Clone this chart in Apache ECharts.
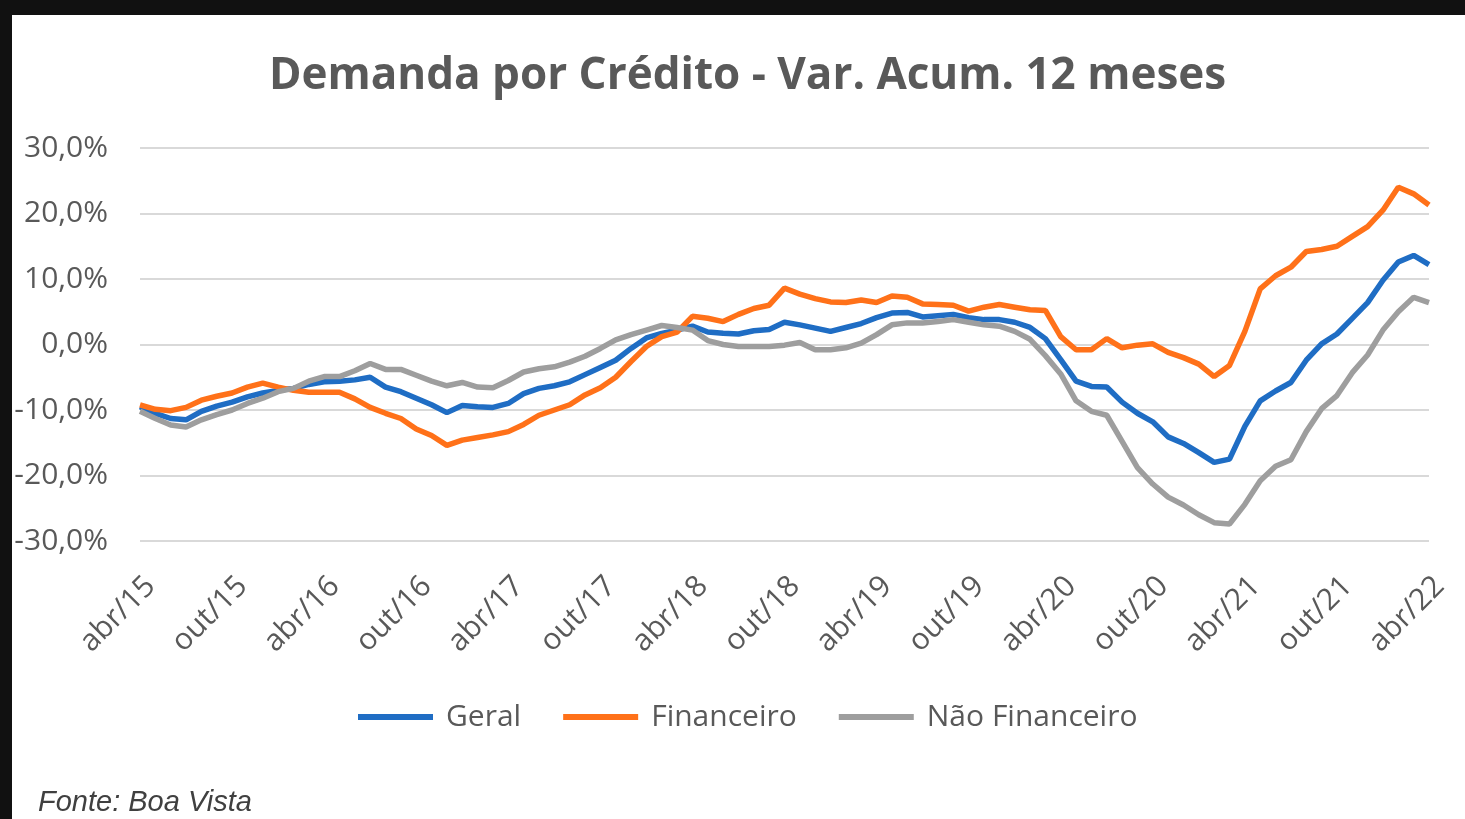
<!DOCTYPE html>
<html>
<head>
<meta charset="utf-8">
<script src="https://cdn.jsdelivr.net/npm/echarts@6/dist/echarts.min.js"></script>
<style>
html,body{margin:0;padding:0;background:#111;}
#chart{width:1465px;height:819px;}
</style>
</head>
<body>
<div id="chart"></div>
<script>
const titleText = 'Demanda por Crédito - Var. Acum. 12 meses';
const sourceText = 'Fonte: Boa Vista';
const seriesNames = ['Geral', 'Financeiro', 'Não Financeiro'];
const monthAbbr = ['abr','mai','jun','jul','ago','set','out','nov','dez','jan','fev','mar'];
const yTicks = [-30, -20, -10, 0, 10, 20, 30];

// monthly categories abr/15 .. abr/22 (85 months)
const categories = [];
(function(){
  let y = 15;
  for (let i = 0; i < 85; i++) {
    const m = i % 12;
    if (m === 9 && i > 0) y++;
    categories.push(monthAbbr[m] + '/' + y);
  }
})();

const geral = [
 -9.5,-10.5,-11.3,-11.5,-10.2,-9.4,-8.8,-8.0,-7.4,-7.0,-6.7,-6.1,
 -5.7,-5.6,-5.4,-5.0,-6.5,-7.2,-8.2,-9.2,-10.4,-9.3,-9.5,-9.6,
 -9.0,-7.5,-6.7,-6.3,-5.7,-4.6,-3.5,-2.4,-0.6,1.0,1.7,2.2,
 2.8,1.9,1.7,1.6,2.1,2.3,3.4,3.0,2.5,2.0,2.6,3.2,
 4.1,4.8,4.9,4.2,4.4,4.6,4.1,3.8,3.8,3.4,2.6,0.9,
 -2.3,-5.6,-6.4,-6.5,-8.8,-10.5,-11.8,-14.1,-15.1,-16.5,-18.0,-17.5,
 -12.5,-8.6,-7.1,-5.8,-2.4,0.1,1.6,4.0,6.4,9.8,12.6,13.6,12.2
];
const financeiro = [
 -9.2,-9.9,-10.1,-9.6,-8.5,-7.9,-7.4,-6.5,-5.9,-6.5,-7.0,-7.3,
 -7.3,-7.3,-8.3,-9.6,-10.5,-11.3,-12.9,-13.9,-15.4,-14.6,-14.2,-13.8,
 -13.3,-12.2,-10.8,-10.0,-9.2,-7.7,-6.6,-5.0,-2.6,-0.3,1.2,1.9,
 4.3,4.0,3.5,4.6,5.5,6.0,8.6,7.7,7.0,6.5,6.4,6.8,
 6.4,7.4,7.2,6.2,6.1,6.0,5.1,5.7,6.1,5.7,5.3,5.2,
 1.2,-0.8,-0.8,0.9,-0.5,-0.1,0.1,-1.2,-2.0,-3.0,-4.9,-3.2,
 2.0,8.5,10.5,11.8,14.2,14.5,15.0,16.5,18.0,20.5,24.0,23.0,21.3
];
const naoFinanceiro = [
 -10.2,-11.3,-12.3,-12.6,-11.5,-10.7,-10.0,-9.0,-8.2,-7.2,-6.7,-5.6,
 -4.9,-4.9,-4.0,-2.9,-3.8,-3.8,-4.7,-5.6,-6.3,-5.8,-6.5,-6.6,
 -5.5,-4.2,-3.7,-3.4,-2.7,-1.8,-0.6,0.7,1.5,2.2,2.9,2.6,
 2.2,0.6,0.0,-0.3,-0.3,-0.3,-0.1,0.3,-0.8,-0.8,-0.5,0.2,
 1.5,3.0,3.3,3.3,3.5,3.8,3.4,3.0,2.8,2.0,0.8,-1.7,
 -4.5,-8.6,-10.2,-10.8,-14.8,-18.8,-21.3,-23.3,-24.5,-26.0,-27.2,-27.4,
 -24.4,-20.8,-18.6,-17.6,-13.3,-9.8,-7.8,-4.3,-1.6,2.2,5.0,7.2,6.4
];

const colors = ['#1f6dc4', '#ff7119', '#9e9e9e'];
const FONT = "'Open Sans', sans-serif";
const textColor = '#595959';

const chart = echarts.init(document.getElementById('chart'));
const mk = (name, data, color) => ({
  name, type: 'line', data, showSymbol: false, symbol: 'none',
  lineStyle: { color, width: 5.5 }, itemStyle: { color },
  emphasis: { disabled: true }, animation: false
});

chart.setOption({
  backgroundColor: '#ffffff',
  animation: false,
  title: [
    { text: titleText, left: 264, top: 49,
      textStyle: { fontFamily: FONT, fontSize: 44, fontWeight: 'bold', color: textColor } },
    { text: sourceText, left: 33, top: 783,
      textStyle: { fontFamily: "'Liberation Sans', Arial, sans-serif", fontSize: 29, fontStyle: 'italic', fontWeight: 'normal', color: '#404040' } }
  ],
  graphic: [
    { type: 'rect', left: 0, top: 0, shape: { width: 1465, height: 15 }, style: { fill: '#111' }, z: 100 },
    { type: 'rect', left: 0, top: 0, shape: { width: 12, height: 819 }, style: { fill: '#111' }, z: 100 }
  ],
  legend: {
    data: seriesNames, left: 353, top: 697, itemGap: 42,
    itemWidth: 75, itemHeight: 6, icon: 'rect',
    textStyle: { fontFamily: FONT, fontSize: 30, color: textColor, padding: [0, 0, 0, 8] }
  },
  grid: { left: 140, right: 36, top: 148, bottom: 278, containLabel: false },
  xAxis: {
    type: 'category', data: categories, boundaryGap: false,
    axisLine: { show: false }, axisTick: { show: false },
    axisLabel: { interval: 5, rotate: 45, margin: 30, verticalAlign: 'top',
      fontFamily: FONT, fontSize: 30, color: textColor },
    splitLine: { show: false }
  },
  yAxis: {
    type: 'value', min: -30, max: 30, interval: 10,
    axisLine: { show: false }, axisTick: { show: false },
    axisLabel: { margin: 32, fontFamily: FONT, fontSize: 30, color: textColor,
      formatter: v => v.toFixed(1).replace('.', ',') + '%' },
    splitLine: { lineStyle: { color: '#d9d9d9', width: 2 } }
  },
  series: [
    mk(seriesNames[0], geral, colors[0]),
    mk(seriesNames[1], financeiro, colors[1]),
    mk(seriesNames[2], naoFinanceiro, colors[2])
  ]
});
</script>
</body>
</html>
